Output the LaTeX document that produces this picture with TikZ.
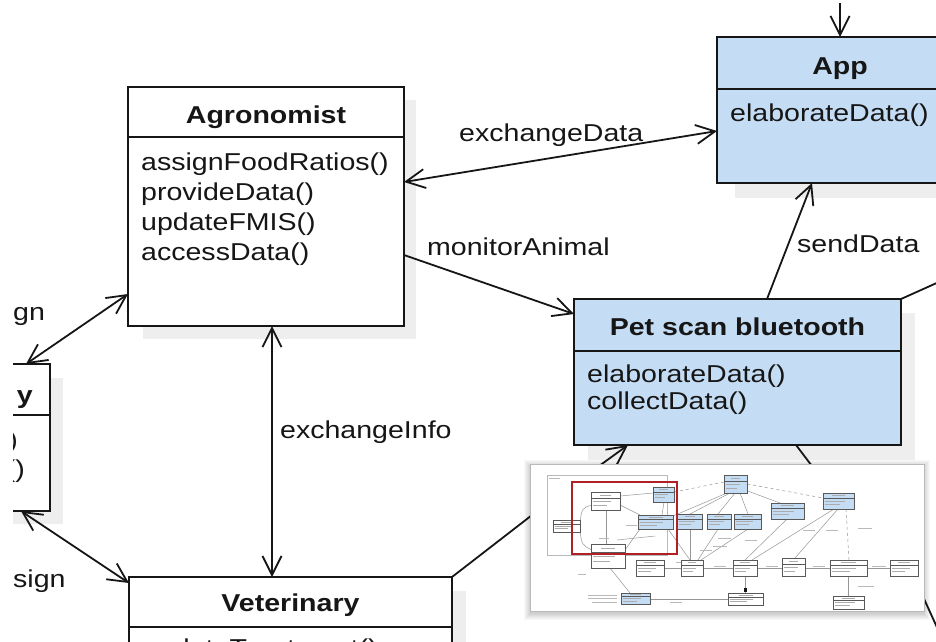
\documentclass[tikz,border=0pt]{standalone}
\usepackage{fontspec}
\setmainfont{Liberation Sans}[FakeStretch=1.17]
\usetikzlibrary{arrows.meta,calc}
\definecolor{umlblue}{RGB}{197,221,244}
\definecolor{ink}{RGB}{22,22,22}
\definecolor{shadowgray}{RGB}{238,238,238}
\definecolor{framered}{RGB}{176,32,36}
\definecolor{minigray}{RGB}{150,150,150}

% a tiny class box of the overview: corners, fill
\newcommand{\minicls}[5]{%
  \filldraw[fill=#5, draw=gray!70!black, line width=0.5pt] (#1,#2) rectangle (#3,#4);
  \draw[gray!70!black, line width=0.4pt] (#1,{#2+(#4-#2)*0.33}) -- (#3,{#2+(#4-#2)*0.33});
  \draw[gray!65, line width=0.9pt] ({#1+(#3-#1)*0.3},{#2+(#4-#2)*0.17}) -- ({#3-(#3-#1)*0.3},{#2+(#4-#2)*0.17});
  \draw[gray!65, line width=0.7pt] ({#1+1.5},{#2+(#4-#2)*0.52}) -- ({#1+(#3-#1)*0.7},{#2+(#4-#2)*0.52});
  \draw[gray!65, line width=0.7pt] ({#1+1.5},{#2+(#4-#2)*0.72}) -- ({#1+(#3-#1)*0.55},{#2+(#4-#2)*0.72});
}

\begin{document}
\begin{tikzpicture}[x=1pt,y=-1pt,
  cls/.style={draw=ink, line width=2.2pt, rectangle, inner sep=0pt, outer sep=0pt, anchor=north west},
  ttl/.style={font=\fontsize{24.4pt}{29pt}\selectfont\bfseries, text=ink, inner sep=0pt, anchor=base},
  meth/.style={font=\fontsize{24.4pt}{29pt}\selectfont, text=ink, inner sep=0pt, anchor=base west},
  lbl/.style={meth},
  assoc/.style={draw=ink, line width=1.8pt},
  divider/.style={draw=ink, line width=2.2pt},
  boxshadow/.style={fill=shadowgray},
  mini/.style={draw=minigray, line width=0.5pt},
  minitxt/.style={draw=gray!55, line width=0.8pt},
  >={Straight Barb[length=19pt,width=19pt]},
]
\useasboundingbox (0,0) rectangle (936,641);
\fill[white] (0,0) rectangle (936,641);

\begin{scope}
\clip (13,0) rectangle (936,641);

% drop shadows of the class boxes
\path[boxshadow] (143,100) rectangle (416,339);
\path[boxshadow] (735,52) rectangle (980,198);
\path[boxshadow] (588,313) rectangle (915,460);
\path[boxshadow] (143,591) rectangle (466,700);
\path[boxshadow] (-100,378) rectangle (63,524);

% class boxes
\node[cls, fill=white, minimum width=276pt, minimum height=239pt] (agro) at (128,87) {};
\node[cls, fill=umlblue, minimum width=246pt, minimum height=146pt] (app) at (717,37) {};
\node[cls, fill=umlblue, minimum width=327pt, minimum height=146pt] (pet) at (574,299) {};
\node[cls, fill=white, minimum width=323pt, minimum height=120pt] (vet) at (129,577) {};
\node[cls, fill=white, minimum width=200pt, minimum height=147pt, anchor=north east] (side) at (50,364) {};

\draw[divider] ([yshift=-50pt]agro.north west) -- ([yshift=-50pt]agro.north east);
\draw[divider] ([yshift=-52pt]app.north west) -- ([yshift=-52pt]app.north east);
\draw[divider] ([yshift=-52pt]pet.north west) -- ([yshift=-52pt]pet.north east);
\draw[divider] ([yshift=-50pt]vet.north west) -- ([yshift=-50pt]vet.north east);
\draw[divider] ([yshift=-51pt]side.north west) -- ([yshift=-51pt]side.north east);

% class names
\node[ttl] (agroT) at (266,123) {Agronomist};
\node[ttl] (appT) at (840,74) {App};
\node[ttl] (petT) at (737.5,335) {Pet scan bluetooth};
\node[ttl] (vetT) at (290.5,611.5) {Veterinary};
\node[ttl, anchor=base east] (sideT) at (33,403) {y};

% operations
\node[meth] (agroM1) at (141,170) {assignFoodRatios()};
\node[meth] (agroM2) at (141,200) {provideData()};
\node[meth] (agroM3) at (141,230) {updateFMIS()};
\node[meth] (agroM4) at (141,260) {accessData()};
\node[meth] (appM1) at (730,121) {elaborateData()};
\node[meth] (petM1) at (587,382) {elaborateData()};
\node[meth] (petM2) at (587,409.5) {collectData()};
\node[meth] (vetM1) at (142,656) {updateTreatment()};
\node[meth, anchor=base east] (sideM1) at (18,448) {()};
\node[meth, anchor=base east] (sideM2) at (25,477) {()};

% free ends of associations leaving the view
\coordinate (appSrc) at (840,3);
\coordinate (offNE) at (950,277);
\coordinate (petSrc) at (588,474);
\coordinate (offPet) at (815,470);
\coordinate (offVet) at (545,505);
\coordinate (offSE1) at (915,579);
\coordinate (offSE2) at (945,645);

% associations
\draw[assoc, <->] ([yshift=-207pt]agro.north west) -- ([xshift=-24pt]side.north east);
\draw[assoc, <->] ([xshift=-29pt]side.south east) -- ([yshift=-6pt]vet.north west);
\draw[assoc, <->] ([xshift=6pt]agro.south) -- ([xshift=6pt]agro.south |- vet.north);
\draw[assoc, <->] ([yshift=-95pt]agro.north east) -- ([yshift=-94pt]app.north west);
\draw[assoc, ->] ([yshift=-168pt]agro.north east) -- ([yshift=-15pt]pet.north west);
\draw[assoc, ->] ([xshift=193pt]pet.north west) -- ([xshift=95pt]app.south west);
\draw[assoc] (pet.north east) -- (offNE);
\draw[assoc, ->] (appSrc) -- (app.north);
\draw[assoc, ->] (petSrc) -- ([xshift=54pt]pet.south west);
\draw[assoc] ([xshift=222pt]pet.south west) -- (offPet);
\draw[assoc] (vet.north east) -- (offVet);
\draw[assoc] (offSE1) -- (offSE2);

% association names
\node[lbl] (lExD) at (459,141) {exchangeData};
\node[lbl] (lMon) at (427,255) {monitorAnimal};
\node[lbl] (lSend) at (797,252) {sendData};
\node[lbl] (lExI) at (280,438) {exchangeInfo};
\node[lbl] (lAs1) at (13,320) {gn};
\node[lbl] (lAs2) at (13,587) {sign};

% overview of the whole model
\foreach \k in {0,...,6}
  \fill[black, opacity=0.028] ({524+\k},{460+\k}) rectangle ({930-\k},{620-\k});
\node[cls, draw=gray!55, line width=1pt, fill=white, minimum width=394pt, minimum height=147pt] (inset) at (530,464) {};

\begin{scope}
\clip (531,465) rectangle (923,610);
% package frame
\draw[gray!55, line width=0.5pt] (547,475) rectangle (667,555);
\draw[minitxt] (549,478) -- (560,478);
% connectors of the overview
\draw[mini] (620,496) -- (653,493);
\draw[mini] (620,505) -- (640,515);
\draw[mini] (662,515) -- (664,502);
\draw[mini] (606,510) -- (606,544);
\draw[mini] (580,522) .. controls (582,508) .. (592,505);
\draw[mini] (580,531) .. controls (582,545) .. (592,550);
\draw[mini] (625,550) -- (640,529);
\draw[mini] (617,540) -- (655,536);
\draw[mini] (668,529) -- (690,560);
\draw[mini, dashed] (674,492) -- (724,482);
\draw[mini] (727,493) -- (673,516);
\draw[mini] (730,493) -- (690,514);
\draw[mini] (735,493) -- (718,514);
\draw[mini] (740,493) -- (748,514);
\draw[mini] (745,490) -- (780,503);
\draw[mini, dashed] (747,484) -- (823,498);
\draw[mini] (690,529) -- (690,560);
\draw[mini] (718,529) -- (698,560);
\draw[mini] (748,529) -- (701,560);
\draw[mini] (787,519) -- (745,560);
\draw[mini] (834,509) -- (752,560);
\draw[mini] (838,509) -- (795,558);
\draw[mini, dashed] (846,509) -- (849,560);
\draw[mini] (664,568) -- (681,568);
\draw[mini] (703,568) -- (733,568);
\draw[mini] (757,568) -- (782,568);
\draw[mini] (805,568) -- (830,568);
\draw[mini] (867,568) -- (890,568);
\draw[mini] (745,576) -- (745,593);
\fill[ink] (744,588) rectangle (746.5,592);
\draw[mini] (848,576) -- (848,596);
\draw[mini] (610,568) -- (630,593);
\draw[mini] (650,599) -- (728,599);
% tiny labels of the overview
\foreach \a/\b/\c in {578/574/586, 599/538/609, 626/525/637, 655/521/667, 700/550/712, 713/546/727,
                      745/540/757, 718/538/731, 803/530/815, 826/530/838, 858/528/872, 676/562/686,
                      714/566/726, 766/566/778, 813/566/825, 872/566/886, 858/586/874, 670/602/682}
  \draw[minitxt] (\a,\b) -- (\c,\b);
\draw[minitxt] (588,595) -- (617,595);
\draw[minitxt] (588,598.5) -- (617,598.5);
\draw[minitxt] (592,602) -- (617,602);
% class boxes of the overview
\minicls{591}{492}{620}{510}{white}
\minicls{653}{487}{674}{502}{umlblue}
\minicls{638}{515}{673}{529}{umlblue}
\minicls{553}{520}{580}{532}{white}
\minicls{591}{544}{625}{568}{white}
\minicls{677}{514}{702}{529}{umlblue}
\minicls{707}{514}{731}{529}{umlblue}
\minicls{734}{514}{761}{529}{umlblue}
\minicls{724}{475}{747}{493}{umlblue}
\minicls{771}{503}{804}{519}{umlblue}
\minicls{823}{493}{854}{509}{umlblue}
\minicls{636}{560}{664}{576}{white}
\minicls{681}{560}{703}{576}{white}
\minicls{733}{560}{757}{576}{white}
\minicls{782}{558}{805}{576}{white}
\minicls{830}{560}{867}{576}{white}
\minicls{890}{560}{918}{576}{white}
\minicls{621}{593}{650}{604}{umlblue}
\minicls{728}{593}{763}{605}{white}
\minicls{833}{596}{864}{609}{white}
% current view
\draw[framered, line width=2.6pt] (572,482) rectangle (677,554);
\end{scope}
\end{scope}
\end{tikzpicture}
\end{document}
